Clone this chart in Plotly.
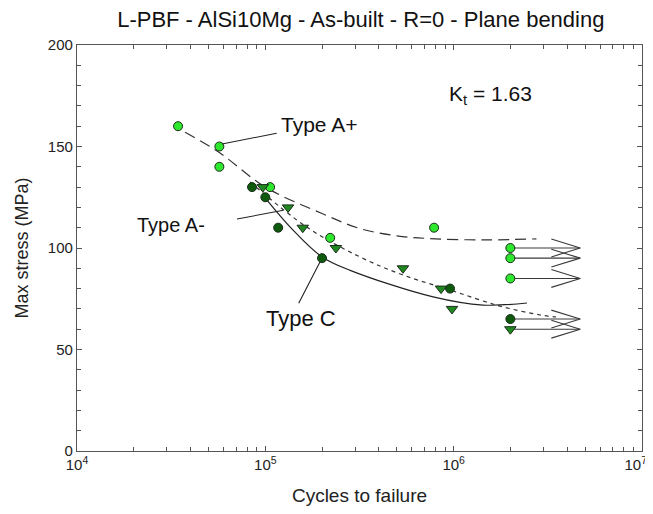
import plotly.graph_objects as go
import numpy as np

FONT = "Liberation Sans, Arial, sans-serif"

# ---- data ----
# Type A+ (light green circles)
ap_N = [34400, 57000, 57000, 106000, 221000, 787000]
ap_S = [160, 150, 140, 130, 105, 110]
ap_run_N = [2.0e6, 2.0e6, 2.0e6]
ap_run_S = [100, 95, 85]

# Type C (dark green circles)
c_N = [85000, 100000, 117000, 200000, 957000]
c_S = [130, 125, 110, 95, 80]
c_run_N = [2.0e6]
c_run_S = [65]

# Type A- (green down triangles)
am_N = [97000, 132000, 158000, 237000, 538000, 857000, 980000]
am_S = [130, 120, 110, 100, 90, 80, 70]
am_run_N = [2.0e6]
am_run_S = [60]

# fitted curves (read points)
fitAp_N = [37500, 57000, 100000, 200000, 320000, 500000, 800000, 1500000, 2750000]
fitAp_S = [157, 147, 130, 117, 109.5, 106, 104.5, 104, 104.5]
fitAm_N = [83000, 166000, 318000, 538000, 957000, 1760000, 2880000, 3500000]
fitAm_S = [132.5, 110.3, 95.6, 86.7, 79.3, 71.4, 67, 66]
fitC_N = [102000, 140000, 200000, 282000, 778000, 1430000, 2450000]
fitC_S = [123.6, 108.9, 95.6, 89, 75.9, 71.9, 72.9]

x_tickvals = [1e4, 1e5, 1e6, 1e7]
x_ticktext = ["10<sup>4</sup>", "10<sup>5</sup>", "10<sup>6</sup>", "10<sup>7</sup>\u00a0\u00a0\u00a0"]

LIGHT = "#2ee82e"
DARK = "#0d5a0d"
MID = "#208a20"
EDGE = "#1a2a1a"

fig = go.Figure()

# curves
fig.add_trace(go.Scatter(x=fitAp_N, y=fitAp_S, mode="lines", line=dict(color="#333", width=1.2, dash="11px,6px", shape="spline"), showlegend=False, hoverinfo="skip"))
fig.add_trace(go.Scatter(x=fitAm_N, y=fitAm_S, mode="lines", line=dict(color="#333", width=1.2, dash="4px,4px", shape="spline"), showlegend=False, hoverinfo="skip"))
fig.add_trace(go.Scatter(x=fitC_N, y=fitC_S, mode="lines", line=dict(color="#222", width=1.2, shape="spline"), showlegend=False, hoverinfo="skip"))

# run-out arrows
run_N = ap_run_N + c_run_N + am_run_N
run_S = ap_run_S + c_run_S + am_run_S
tip_factor = 2.35
back_factor = 1.65
for n, s in zip(run_N, run_S):
    fig.add_trace(go.Scatter(
        x=[n, n * tip_factor, None, n * back_factor, n * tip_factor, n * back_factor],
        y=[s, s, None, s + 4.4, s, s - 4.4],
        mode="lines", line=dict(color="#3a3a3a", width=1.1), showlegend=False, hoverinfo="skip"))

mk = dict(size=9, line=dict(color=EDGE, width=1))
fig.add_trace(go.Scatter(x=ap_N + ap_run_N, y=ap_S + ap_run_S, mode="markers",
                         marker=dict(symbol="circle", color=LIGHT, **mk), showlegend=False))
fig.add_trace(go.Scatter(x=c_N + c_run_N, y=c_S + c_run_S, mode="markers",
                         marker=dict(symbol="circle", color=DARK, **mk), showlegend=False))
fig.add_trace(go.Scatter(x=am_N + am_run_N, y=am_S + am_run_S, mode="markers",
                         marker=dict(symbol="triangle-down", color=MID, size=10, line=dict(color=EDGE, width=1)), showlegend=False))

# labels with leader lines
def leader(x0, y0, x1, y1):
    fig.add_annotation(x=np.log10(x0), y=y0, ax=np.log10(x1), ay=y1, xref="x", yref="y",
                       axref="x", ayref="y", showarrow=True, arrowhead=0, arrowwidth=1.1,
                       arrowcolor="#222", text="")

leader(58900, 151.2, 117000, 156.7)
leader(70800, 114.3, 127000, 118.7)
leader(195000, 93.1, 149000, 72)

tf = dict(family=FONT, size=21, color="#111")
fig.add_annotation(x=np.log10(118000), y=160.6, text="Type A+", showarrow=False, xanchor="left", yanchor="middle", font=tf)
fig.add_annotation(x=np.log10(49000), y=111.5, text="Type A-", showarrow=False, xanchor="right", yanchor="middle", font=dict(family=FONT, size=20, color="#111"))
fig.add_annotation(x=np.log10(155000), y=65.5, text="Type C", showarrow=False, xanchor="center", yanchor="middle", font=dict(family=FONT, size=22, color="#111"))
fig.add_annotation(x=np.log10(1.56e6), y=175.4, text="K<sub>t</sub> = 1.63", showarrow=False, xanchor="center", yanchor="middle", font=tf)

axis_common = dict(showline=True, linecolor="#555", linewidth=1.2, mirror="ticks", ticks="inside",
                   ticklen=5, tickcolor="#555", showgrid=False, zeroline=False, automargin=False,
                   ticklabeloverflow="allow",
                   tickfont=dict(family=FONT, size=15, color="#222"))

fig.update_xaxes(type="log", range=[4, 7], tickvals=x_tickvals, ticktext=x_ticktext,
                 minor=dict(ticks="inside", ticklen=4, tickcolor="#555", dtick="D1", showgrid=False),
                 title=dict(text="Cycles to failure", font=dict(family=FONT, size=19, color="#222"), standoff=26),
                 **axis_common)
fig.update_yaxes(range=[0, 200], dtick=50,
                 minor=dict(ticks="inside", ticklen=4, tickcolor="#555", dtick=10, showgrid=False),
                 title=dict(text="Max stress (MPa)", font=dict(family=FONT, size=18, color="#222"), standoff=14),
                 **axis_common)

# page body has an 8px margin: figure is sized/offset so plot lands where the reference has it
fig.update_layout(
    width=645, height=498,
    margin=dict(l=69, r=11, t=37, b=55),
    plot_bgcolor="white", paper_bgcolor="white",
    title=dict(text="L-PBF - AlSi10Mg - As-built - R=0 - Plane bending", x=0.547, xanchor="center",
               y=1 - 11 / 498, yanchor="middle", yref="container",
               font=dict(family=FONT, size=22, color="#111")),
)

fig.write_html("out.html")
